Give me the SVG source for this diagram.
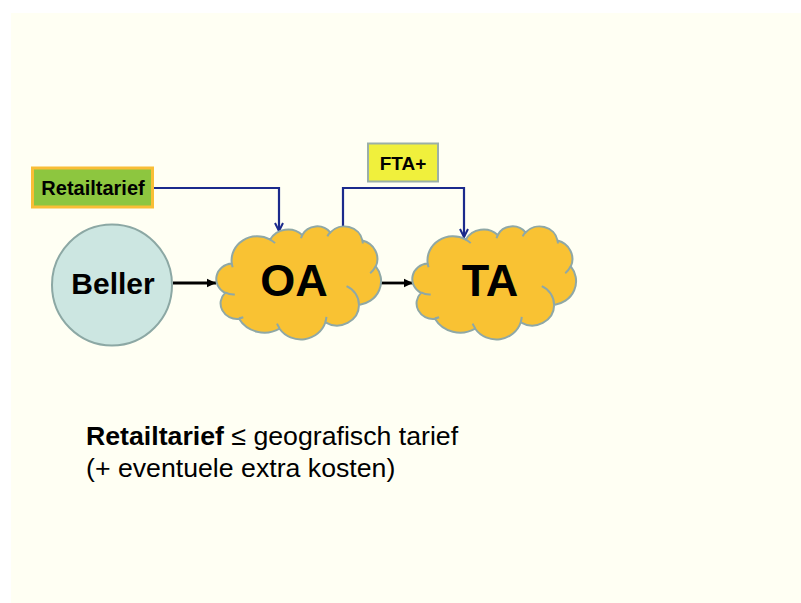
<svg xmlns="http://www.w3.org/2000/svg" width="801" height="603" viewBox="0 0 801 603">
<defs>
<style>
.bg{fill:#FFFFF3}
.cloud{fill:#F9C233;stroke:#8FA8A6;stroke-width:2}
.inner{fill:none;stroke:#8FA8A6;stroke-width:2}
.lbl{font-family:"Liberation Sans",Arial,sans-serif;font-weight:bold;fill:#000;text-anchor:middle}
.blue{fill:none;stroke:#1B2A8C;stroke-width:2.2}
.black{fill:none;stroke:#000;stroke-width:2.8}
.body{font-family:"Liberation Sans",Arial,sans-serif;font-size:26.7px;fill:#000}
</style>
<marker id="ab" markerUnits="userSpaceOnUse" markerWidth="12" markerHeight="12" refX="9" refY="5" orient="auto">
<path d="M0,0.8 L9,5 L0,9.2 Z" fill="#000"/>
</marker>
<marker id="av" markerUnits="userSpaceOnUse" markerWidth="12" markerHeight="12" refX="9" refY="5" orient="auto">
<path d="M1,1 L9,5 L1,9" fill="none" stroke="#1B2A8C" stroke-width="2"/>
</marker>
<path id="cloudShape" vector-effect="non-scaling-stroke" d="M3900 14370 A6753 9190 0 0 1 14006 5202 A5333 7267 0 0 1 22458 3436 A4365 5945 0 0 1 29834 2482 A4857 6595 0 0 1 38319 5578 A5333 7273 0 0 1 41820 15461 A6775 9220 0 0 1 37405 30204 A5785 7867 0 0 1 28557 36814 A6752 9215 0 0 1 16482 39268 A7720 10543 0 0 1 5806 35474 A4360 5918 0 0 1 2115 25553 A4345 5945 0 0 1 3900 14370 Z"/>
<path id="cloudInner" vector-effect="non-scaling-stroke" d="M4693 26177 A4345 5945 0 0 1 2159 25380 M6928 34899 A4360 5918 0 0 1 5820 35281 M16478 39090 A6752 9215 0 0 1 15809 37348 M28827 34751 A6752 9215 0 0 1 28561 36659 M34129 22954 A5785 7867 0 0 1 37381 30090 M41798 15354 A5333 7273 0 0 1 40349 18031 M38324 5426 A4857 6595 0 0 1 38400 6689 M29078 3952 A4857 6595 0 0 1 29820 2340 M22141 4720 A4365 5945 0 0 1 22500 3331 M14000 5192 A6753 9190 0 0 1 15301 6543 M4127 15789 A6753 9190 0 0 1 3901 14372"/>
</defs>
<rect x="0" y="0" width="801" height="603" fill="#FFFFFF"/>
<rect class="bg" x="11" y="13" width="790" height="590"/>

<g id="connectors">
<path class="black" d="M173 283 H216" marker-end="url(#ab)"/>
<path class="black" d="M381 283 H413" marker-end="url(#ab)"/>
<path class="blue" d="M154 188 H279 V231" marker-end="url(#av)"/>
<path class="blue" d="M343 227 V188 H464 V237" marker-end="url(#av)"/>
</g>

<g id="beller">
<ellipse cx="112" cy="285" rx="60" ry="60.5" fill="#CCE6E1" stroke="#8CA8A4" stroke-width="2"/>
<text class="lbl" x="113" y="294" font-size="30">Beller</text>
</g>

<g id="oa">
<g transform="translate(217,226) scale(0.0037963,0.0026157)">
<use href="#cloudShape" class="cloud"/>
<use href="#cloudInner" class="inner"/>
</g>
<text class="lbl" x="294" y="296" font-size="45">OA</text>
</g>

<g id="ta">
<g transform="translate(413,226) scale(0.0037731,0.0026157)">
<use href="#cloudShape" class="cloud"/>
<use href="#cloudInner" class="inner"/>
</g>
<text class="lbl" x="490" y="296" font-size="45">TA</text>
</g>

<g id="retailtarief">
<rect x="32.5" y="168" width="120" height="39" fill="#8DC63F" stroke="#F9BE36" stroke-width="3"/>
<text class="lbl" x="93" y="195" font-size="20">Retailtarief</text>
</g>

<g id="fta">
<rect x="368" y="143.5" width="70" height="38" fill="#F0F03C" stroke="#9BB0A8" stroke-width="2"/>
<text class="lbl" x="403" y="170" font-size="19">FTA+</text>
</g>

<g id="note">
<text class="body" x="86" y="445"><tspan font-weight="bold">Retailtarief</tspan> ≤ geografisch tarief</text>
<text class="body" x="86" y="477">(+ eventuele extra kosten)</text>
</g>
</svg>
